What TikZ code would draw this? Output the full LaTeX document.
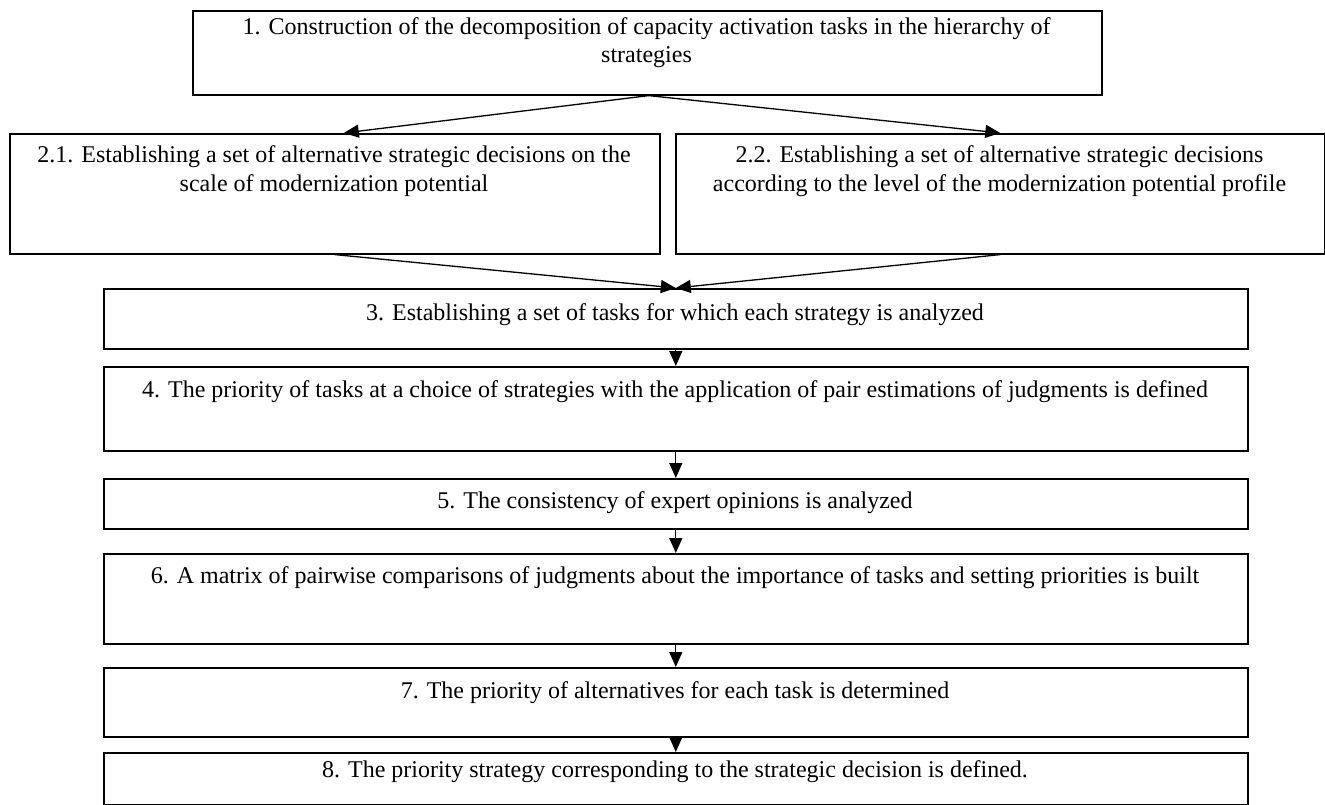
\documentclass[tikz,border=0pt]{standalone}
\usepackage{fontspec}
\setmainfont{Liberation Serif}
\usetikzlibrary{arrows.meta,calc}
\tikzset{
  box/.style={draw,line width=1.6pt,inner sep=0pt,anchor=north west},
  txt/.style={inner sep=0pt,anchor=base,font=\fontsize{24}{28}\selectfont},
  conn/.style={line width=1.3pt,-{Triangle[length=15pt,width=13pt]}}
}
\begin{document}
\begin{tikzpicture}[x=1pt,y=-1pt]
\useasboundingbox (0,0) rectangle (1325,805);
% boxes
\node[box,minimum width=909pt,minimum height=84pt] (b1) at (192,10) {};
\node[box,minimum width=650pt,minimum height=120pt] (b21) at (9,133) {};
\node[box,minimum width=649pt,minimum height=120pt] (b22) at (675,133) {};
\node[box,minimum width=1144pt,minimum height=60pt] (b3) at (103,288) {};
\node[box,minimum width=1144pt,minimum height=84pt] (b4) at (103,366) {};
\node[box,minimum width=1144pt,minimum height=50pt] (b5) at (103,478) {};
\node[box,minimum width=1144pt,minimum height=90pt] (b6) at (103,553) {};
\node[box,minimum width=1144pt,minimum height=69pt] (b7) at (103,667) {};
\node[box,minimum width=1144pt,minimum height=52pt] (b8) at (103,752) {};
% texts
\node[txt] (t1a) at (646.5,35) {1. Construction of the decomposition of capacity activation tasks in the hierarchy of};
\node[txt] (t1b) at (646.5,63) {strategies};
\node[txt] (t21a) at (334,163) {2.1. Establishing a set of alternative strategic decisions on the};
\node[txt] (t21b) at (334,192) {scale of modernization potential};
\node[txt] (t22a) at (999.5,163) {2.2. Establishing a set of alternative strategic decisions};
\node[txt] (t22b) at (999.5,192) {according to the level of the modernization potential profile};
\node[txt] (t3) at (675,320) {3. Establishing a set of tasks for which each strategy is analyzed};
\node[txt] (t4) at (675,397) {4. The priority of tasks at a choice of strategies with the application of pair estimations of judgments is defined};
\node[txt] (t5) at (675,508) {5. The consistency of expert opinions is analyzed};
\node[txt] (t6) at (675,583) {6. A matrix of pairwise comparisons of judgments about the importance of tasks and setting priorities is built};
\node[txt] (t7) at (675,698) {7. The priority of alternatives for each task is determined};
\node[txt] (t8) at (675,777) {8. The priority strategy corresponding to the strategic decision is defined.};
% connectors
\coordinate (s1) at ($(b1.south)+(1.5,0)$);
\draw[conn] (s1) -- ($(b21.north)+(9,0)$);
\draw[conn] (s1) -- (b22.north);
\draw[conn] (b21.south) -- (b3.north);
\draw[conn] (b22.south) -- (b3.north);
\draw[conn] (b3.south) -- (b4.north);
\draw[conn] (b4.south) -- (b5.north);
\draw[conn] (b5.south) -- (b6.north);
\draw[conn] (b6.south) -- (b7.north);
\draw[conn] (b7.south) -- (b8.north);
\end{tikzpicture}
\end{document}
